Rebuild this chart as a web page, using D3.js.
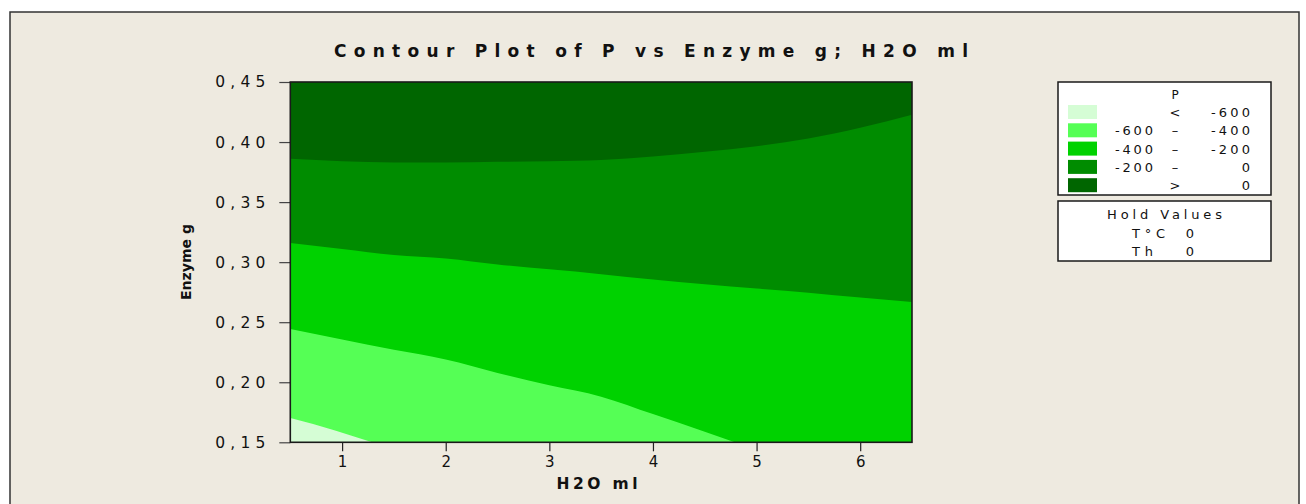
<!DOCTYPE html>
<html>
<head>
<meta charset="utf-8">
<script src="https://cdn.jsdelivr.net/npm/d3@7"></script>
<style>
  html, body { margin: 0; padding: 0; background: #ffffff; }
  svg { display: block; }
  text { font-family: "DejaVu Sans", Verdana, sans-serif; fill: #111; }
</style>
</head>
<body>
<svg id="chart" width="1306" height="504"></svg>
<script>
// Axis ranges and ticks
const xDomain = [0.5, 6.5];
const yDomain = [0.15, 0.45];
const xTicks = [1, 2, 3, 4, 5, 6];
const xTickLabels = ["1", "2", "3", "4", "5", "6"];
const yTicks = [0.15, 0.20, 0.25, 0.30, 0.35, 0.40, 0.45];
const yTickLabels = ["0,15", "0,20", "0,25", "0,30", "0,35", "0,40", "0,45"];

// Contour bands (P), lowest to highest
const bandColors = ["#d5fdd5", "#55ff55", "#00d200", "#008c00", "#006600"];
const legendLow = ["", "-600", "-400", "-200", ""];
const legendSep = ["<", "\u2013", "\u2013", "\u2013", ">"];
const legendHigh = ["-600", "-400", "-200", "0", "0"];

// Contour lines: H2O ml positions and Enzyme g values
const levelZeroX = [0.5, 1, 1.5, 2, 2.5, 3, 3.5, 4, 4.5, 5, 5.5, 6, 6.5];
const levelZeroY = [0.386, 0.384, 0.383, 0.383, 0.3835, 0.384, 0.385, 0.388, 0.392, 0.3965, 0.403, 0.412, 0.4228];
const levelM200X = [0.5, 1, 1.5, 2, 2.5, 3, 3.5, 4, 4.5, 5, 5.5, 6, 6.5];
const levelM200Y = [0.316, 0.311, 0.306, 0.303, 0.298, 0.294, 0.290, 0.2855, 0.2815, 0.278, 0.2745, 0.2705, 0.2668];
const levelM400X = [0.5, 1, 1.5, 2, 2.5, 3, 3.5, 4, 4.5, 4.79];
const levelM400Y = [0.2443, 0.2355, 0.227, 0.219, 0.2078, 0.1974, 0.188, 0.1735, 0.1587, 0.15];
const levelM600X = [0.5, 0.94, 1.29];
const levelM600Y = [0.1702, 0.1597, 0.15];

// Hold values
const holdNames = ["T\u00b0C", "Th"];
const holdValues = ["0", "0"];

const svg = d3.select("#chart");

// Background panel
svg.append("rect").attr("x", 10).attr("y", 12).attr("width", 1289).attr("height", 500)
  .attr("fill", "#eeeae0").attr("stroke", "#333").attr("stroke-width", 1.5);

const plot = { left: 290.3, top: 82, right: 912, bottom: 442.3 };
const x = d3.scaleLinear().domain(xDomain).range([plot.left, plot.right]);
const y = d3.scaleLinear().domain(yDomain).range([plot.bottom, plot.top]);

svg.append("clipPath").attr("id", "plotClip").append("rect")
  .attr("x", plot.left).attr("y", plot.top)
  .attr("width", plot.right - plot.left).attr("height", plot.bottom - plot.top);

const bands = svg.append("g").attr("clip-path", "url(#plotClip)");

// Highest band fills the whole region; each lower band is painted beneath its contour line
bands.append("rect")
  .attr("x", x(xDomain[0])).attr("y", y(yDomain[1]))
  .attr("width", x(xDomain[1]) - x(xDomain[0])).attr("height", y(yDomain[0]) - y(yDomain[1]))
  .attr("fill", bandColors[4]);

const area = d3.area()
  .x(d => x(d[0]))
  .y0(y(yDomain[0]))
  .y1(d => y(d[1]))
  .curve(d3.curveMonotoneX);

const lines = [
  [levelZeroX, levelZeroY, bandColors[3]],
  [levelM200X, levelM200Y, bandColors[2]],
  [levelM400X, levelM400Y, bandColors[1]],
  [levelM600X, levelM600Y, bandColors[0]]
];
lines.forEach(([xs, ys, color]) => {
  const pts = xs.map((v, i) => [v, ys[i]]);
  bands.append("path").datum(pts).attr("d", area).attr("fill", color);
});

// Axes
const xAxis = d3.axisBottom(x).tickValues(xTicks).tickFormat((d, i) => xTickLabels[i])
  .tickSizeOuter(0).tickSizeInner(9).tickPadding(5);
const gx = svg.append("g").attr("transform", `translate(0,${plot.bottom})`).call(xAxis);
gx.select(".domain").remove();
gx.selectAll("line").attr("stroke", "#222").attr("stroke-width", 1.2);
gx.selectAll("text").attr("font-size", 15).attr("fill", "#111")
  .attr("font-family", "'DejaVu Sans Condensed', 'DejaVu Sans', sans-serif");

const yAxis = d3.axisLeft(y).tickValues(yTicks).tickFormat((d, i) => yTickLabels[i])
  .tickSizeOuter(0).tickSizeInner(11).tickPadding(14);
const gy = svg.append("g").attr("transform", `translate(${plot.left},0)`).call(yAxis);
gy.select(".domain").remove();
gy.selectAll("line").attr("stroke", "#444").attr("stroke-width", 1.2);
gy.selectAll("text").attr("font-size", 15.5).attr("fill", "#111")
  .attr("textLength", 50).attr("lengthAdjust", "spacing");

// Plot frame
svg.append("rect").attr("x", plot.left).attr("y", plot.top)
  .attr("width", plot.right - plot.left).attr("height", plot.bottom - plot.top)
  .attr("fill", "none").attr("stroke", "#1a1a1a").attr("stroke-width", 1.6);

// Titles
svg.append("text").attr("x", 651).attr("y", 57).attr("text-anchor", "middle")
  .attr("font-size", 17).attr("font-weight", "bold")
  .attr("textLength", 634).attr("lengthAdjust", "spacing")
  .text("Contour Plot of P vs Enzyme g; H2O ml");

svg.append("text").attr("x", 597).attr("y", 489).attr("text-anchor", "middle")
  .attr("font-size", 15.5).attr("font-weight", "bold")
  .attr("textLength", 81).attr("lengthAdjust", "spacing")
  .text("H2O ml");

svg.append("text").attr("transform", "translate(191,262) rotate(-90)").attr("text-anchor", "middle")
  .attr("font-size", 13.5).attr("font-weight", "bold")
  .attr("textLength", 76).attr("lengthAdjust", "spacingAndGlyphs")
  .text("Enzyme g");

// Legend
const lg = svg.append("g");
lg.append("rect").attr("x", 1058).attr("y", 82).attr("width", 213).attr("height", 113)
  .attr("fill", "#ffffff").attr("stroke", "#1a1a1a").attr("stroke-width", 1.5);
lg.append("text").attr("x", 1175).attr("y", 98.5).attr("text-anchor", "middle")
  .attr("font-size", 12).text("P");

const rowY = d3.range(bandColors.length).map(i => 105 + i * 18.3);
bandColors.forEach((c, i) => {
  const ry = rowY[i];
  lg.append("rect").attr("x", 1068).attr("y", ry).attr("width", 29).attr("height", 14).attr("fill", c);
  const base = ry + 12;
  if (legendLow[i]) {
    lg.append("text").attr("x", 1115).attr("y", base).attr("font-size", 13)
      .attr("textLength", 38).attr("lengthAdjust", "spacing").text(legendLow[i]);
  }
  lg.append("text").attr("x", 1175).attr("y", base).attr("text-anchor", "middle")
    .attr("font-size", 13).text(legendSep[i]);
  const hi = lg.append("text").attr("x", 1250).attr("y", base).attr("text-anchor", "end")
    .attr("font-size", 13).text(legendHigh[i]);
  if (legendHigh[i].length > 1) hi.attr("textLength", 39).attr("lengthAdjust", "spacing");
});

// Hold values box
const hg = svg.append("g");
hg.append("rect").attr("x", 1058).attr("y", 201).attr("width", 213).attr("height", 60)
  .attr("fill", "#ffffff").attr("stroke", "#1a1a1a").attr("stroke-width", 1.5);
hg.append("text").attr("x", 1164.5).attr("y", 219).attr("text-anchor", "middle")
  .attr("font-size", 13).attr("textLength", 115).attr("lengthAdjust", "spacing")
  .text("Hold Values");
holdNames.forEach((n, i) => {
  const base = 237.5 + i * 18.5;
  hg.append("text").attr("x", 1132).attr("y", base).attr("font-size", 13)
    .attr("textLength", n.length > 2 ? 33 : 21).attr("lengthAdjust", "spacing").text(n);
  hg.append("text").attr("x", 1190).attr("y", base).attr("text-anchor", "middle")
    .attr("font-size", 13).text(holdValues[i]);
});
</script>
</body>
</html>
